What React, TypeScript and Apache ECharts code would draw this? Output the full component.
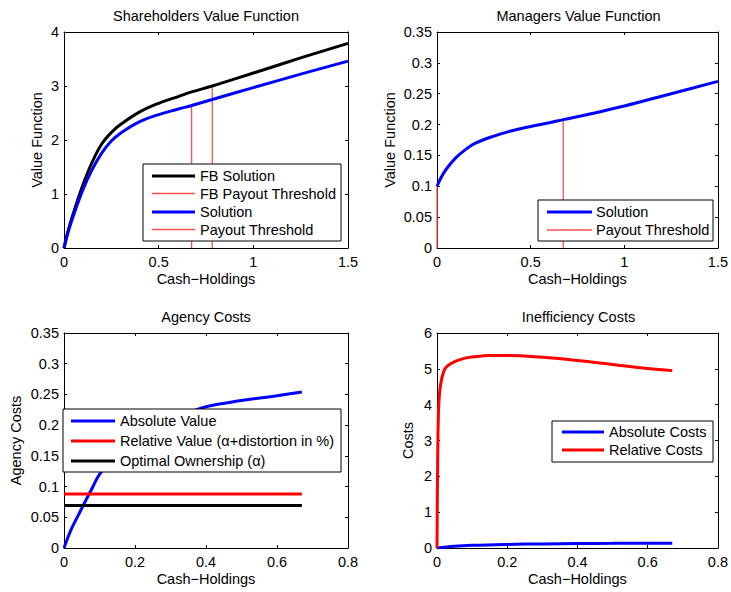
import React, { useEffect, useRef } from "react";
import * as echarts from "echarts";

// ---------- Data ----------
// Shareholders value function
const shX = [0, 0.02, 0.05, 0.1, 0.15, 0.2, 0.25, 0.3, 0.4, 0.5, 0.6, 0.674, 0.783, 1.0, 1.25, 1.5];
const shFB = [0, 0.3, 0.65, 1.17, 1.6, 1.93, 2.14, 2.29, 2.52, 2.68, 2.8, 2.89, 3.0, 3.24, 3.52, 3.79];
const shSol = [0, 0.27, 0.6, 1.08, 1.46, 1.76, 1.98, 2.13, 2.34, 2.47, 2.57, 2.64, 2.75, 2.97, 3.22, 3.46];
const shFBThreshold = [0.783, 3.0];
const shThreshold = [0.674, 2.64];

// Managers value function
const mgX = [0, 0.02, 0.05, 0.1, 0.15, 0.2, 0.3, 0.4, 0.5, 0.6, 0.674, 0.8, 1.0, 1.25, 1.5];
const mgSol = [0.1, 0.113, 0.128, 0.146, 0.159, 0.169, 0.181, 0.19, 0.197, 0.203, 0.208, 0.216, 0.23, 0.25, 0.27];
const mgThresholds = [[0, 0.1], [0.674, 0.208]];

// Agency costs
const agX = [0, 0.02, 0.04, 0.06, 0.08, 0.1, 0.15, 0.2, 0.25, 0.3, 0.35, 0.4, 0.5, 0.6, 0.67];
const agAbs = [0, 0.03, 0.053, 0.076, 0.098, 0.12, 0.155, 0.18, 0.197, 0.21, 0.22, 0.23, 0.24, 0.248, 0.254];
const agFlatX = [0, 0.67];
const agRelative = 0.088;
const agOwnership = 0.069;

// Inefficiency costs
const inRelX = [0, 0.002, 0.005, 0.01, 0.02, 0.03, 0.05, 0.08, 0.1, 0.15, 0.2, 0.3, 0.4, 0.5, 0.6, 0.67];
const inRel = [0, 2.5, 4.0, 4.55, 4.95, 5.08, 5.2, 5.3, 5.33, 5.37, 5.37, 5.32, 5.23, 5.12, 5.01, 4.95];
const inAbsX = [0, 0.05, 0.1, 0.2, 0.3, 0.4, 0.5, 0.6, 0.67];
const inAbs = [0, 0.05, 0.075, 0.1, 0.115, 0.125, 0.13, 0.135, 0.135];

const titles = ["Shareholders Value Function", "Managers Value Function", "Agency Costs", "Inefficiency Costs"];
const yNames = ["Value Function", "Value Function", "Agency Costs", "Costs"];
const xName = "Cash\u2212Holdings";

const FONT = "'Liberation Sans', Arial, Helvetica, sans-serif";
const FS = 14.5;
const BLUE = "#0000ff";
const RED = "#ff0000";
const THIN_RED = "#ff5050";
const BLACK = "#000000";

const zip = (xs: number[], ys: number[]) => xs.map((x, i) => [x, ys[i]]);

const grids = [
  { left: 64, top: 32, width: 284, height: 216 },
  { left: 437, top: 32, width: 283, height: 216 },
  { left: 64, top: 333, width: 284, height: 215 },
  { left: 437, top: 333, width: 283, height: 215 },
];
const xRanges = [
  { min: 0, max: 1.5, interval: 0.5 },
  { min: 0, max: 1.5, interval: 0.5 },
  { min: 0, max: 0.8, interval: 0.2 },
  { min: 0, max: 0.8, interval: 0.2 },
];
const yRanges = [
  { min: 0, max: 4, interval: 1 },
  { min: 0, max: 0.35, interval: 0.05 },
  { min: 0, max: 0.35, interval: 0.05 },
  { min: 0, max: 6, interval: 1 },
];
const yNameGaps = [20, 40, 41, 22];

function buildAxes() {
  const xAxis: any[] = [];
  const yAxis: any[] = [];
  grids.forEach((_, i) => {
    const common = {
      type: "value",
      gridIndex: i,
      splitLine: { show: false },
      axisLine: { show: true, onZero: false, lineStyle: { color: BLACK, width: 1 } },
      axisTick: { show: true, inside: true, length: 3, lineStyle: { color: BLACK } },
    };
    xAxis.push({
      ...common,
      ...xRanges[i],
      position: "bottom",
      name: xName,
      nameLocation: "middle",
      nameGap: 23,
      nameTextStyle: { fontFamily: FONT, fontSize: FS, color: BLACK },
      axisLabel: { fontFamily: FONT, fontSize: FS, color: BLACK, margin: 6 },
    });
    xAxis.push({ ...common, ...xRanges[i], position: "top", axisLabel: { show: false } });
    yAxis.push({
      ...common,
      ...yRanges[i],
      position: "left",
      name: yNames[i],
      nameLocation: "middle",
      nameGap: yNameGaps[i],
      nameRotate: 90,
      nameTextStyle: { fontFamily: FONT, fontSize: FS, color: BLACK },
      axisLabel: { fontFamily: FONT, fontSize: FS, color: BLACK, margin: 5 },
    });
    yAxis.push({ ...common, ...yRanges[i], position: "right", axisLabel: { show: false } });
  });
  return { xAxis, yAxis };
}

function line(name: string, grid: number, data: number[][], color: string, width: number, z = 2, smooth: any = false) {
  return {
    type: "line",
    name,
    xAxisIndex: grid * 2,
    yAxisIndex: grid * 2,
    data,
    showSymbol: false,
    symbol: "none",
    smooth,
    z,
    lineStyle: { color, width },
    itemStyle: { color },
  };
}

function legendBox(
  x: number,
  y: number,
  w: number,
  h: number,
  rows: number[],
  lineX: [number, number],
  textX: number,
  items: { label: string; color: string; width: number }[]
) {
  const children: any[] = [
    { type: "rect", shape: { x, y, width: w, height: h }, style: { fill: "#ffffff", stroke: BLACK, lineWidth: 1 }, z: 100 },
  ];
  items.forEach((it, k) => {
    children.push({
      type: "line",
      shape: { x1: lineX[0], y1: rows[k], x2: lineX[1], y2: rows[k] },
      style: { stroke: it.color, lineWidth: it.width },
      z: 101,
    });
    children.push({
      type: "text",
      x: textX,
      y: rows[k],
      style: { text: it.label, fontFamily: FONT, fontSize: FS, fill: BLACK, verticalAlign: "middle", align: "left" },
      z: 101,
    });
  });
  return children;
}

export default function App() {
  const ref = useRef<HTMLDivElement>(null);
  useEffect(() => {
    if (!ref.current) return;
    const chart = echarts.init(ref.current, undefined, { renderer: "svg" });
    const { xAxis, yAxis } = buildAxes();
    const S = 0.4;

    const series: any[] = [
      // Shareholders
      line("FB Solution", 0, zip(shX, shFB), BLACK, 3, 2, S),
      line("FB Payout Threshold", 0, [[shFBThreshold[0], 0], [shFBThreshold[0], shFBThreshold[1]]], THIN_RED, 1.3, 1),
      line("Solution", 0, zip(shX, shSol), BLUE, 3, 2, S),
      line("Payout Threshold", 0, [[shThreshold[0], 0], [shThreshold[0], shThreshold[1]]], THIN_RED, 1.3, 1),
      // Managers
      line("Solution", 1, zip(mgX, mgSol), BLUE, 3, 2, S),
      line("Payout Threshold", 1, [[mgThresholds[0][0], 0], [mgThresholds[0][0], mgThresholds[0][1]]], THIN_RED, 1.3, 1),
      line("Payout Threshold", 1, [[mgThresholds[1][0], 0], [mgThresholds[1][0], mgThresholds[1][1]]], THIN_RED, 1.3, 1),
      // Agency
      line("Absolute Value", 2, zip(agX, agAbs), BLUE, 3, 2, S),
      line("Relative Value", 2, agFlatX.map((x) => [x, agRelative]), RED, 3),
      line("Optimal Ownership", 2, agFlatX.map((x) => [x, agOwnership]), BLACK, 3),
      // Inefficiency
      line("Absolute Costs", 3, zip(inAbsX, inAbs), BLUE, 3, 2, S),
      line("Relative Costs", 3, zip(inRelX, inRel), RED, 3, 2, S),
    ];

    const title = grids.map((g, i) => ({
      text: titles[i],
      left: g.left + g.width / 2,
      top: i < 2 ? 8 : 309,
      textAlign: "center",
      padding: 0,
      textStyle: { fontFamily: FONT, fontSize: FS, fontWeight: "normal", color: BLACK },
    }));

    const graphic: any[] = [
      ...legendBox(143, 164, 198, 77, [176, 193.5, 212, 229.5], [152, 195], 200, [
        { label: "FB Solution", color: BLACK, width: 3 },
        { label: "FB Payout Threshold", color: THIN_RED, width: 1.3 },
        { label: "Solution", color: BLUE, width: 3 },
        { label: "Payout Threshold", color: THIN_RED, width: 1.3 },
      ]),
      ...legendBox(538, 200, 175, 41, [212, 230], [547, 592], 596, [
        { label: "Solution", color: BLUE, width: 3 },
        { label: "Payout Threshold", color: THIN_RED, width: 1.3 },
      ]),
      ...legendBox(63, 409, 278, 63, [421, 441, 461], [71, 115], 120, [
        { label: "Absolute Value", color: BLUE, width: 3 },
        { label: "Relative Value (\u03b1+distortion in %)", color: RED, width: 3 },
        { label: "Optimal Ownership (\u03b1)", color: BLACK, width: 3 },
      ]),
      ...legendBox(552, 421, 161, 41, [432, 450], [562, 604], 609, [
        { label: "Absolute Costs", color: BLUE, width: 3 },
        { label: "Relative Costs", color: RED, width: 3 },
      ]),
    ];

    chart.setOption({
      animation: false,
      backgroundColor: "#ffffff",
      textStyle: { fontFamily: FONT },
      title,
      grid: grids.map((g) => ({ ...g, containLabel: false })),
      xAxis,
      yAxis,
      series,
      graphic,
    });
    return () => chart.dispose();
  }, []);
  return (
    <div
      ref={ref}
      style={{ position: "fixed", left: 0, top: 0, width: 731, height: 592, background: "#ffffff" }}
    />
  );
}
